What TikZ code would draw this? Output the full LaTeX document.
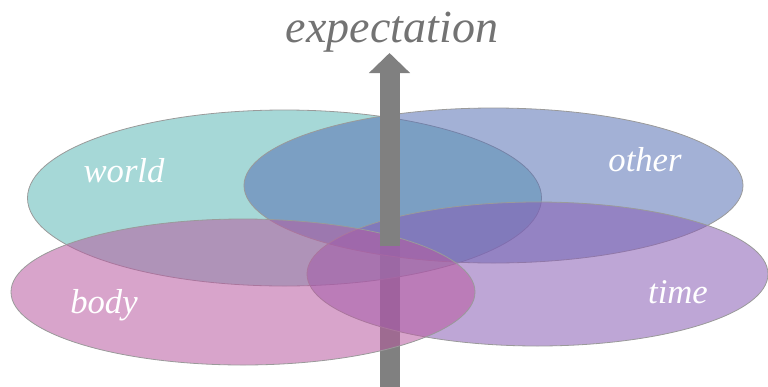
\documentclass[tikz,border=0pt]{standalone}
\usepackage{fontspec}
\setmainfont{Liberation Serif}
\usetikzlibrary{arrows.meta,shapes.geometric}
\definecolor{teal}{HTML}{5DB8B6}
\definecolor{slate}{HTML}{5871B4}
\definecolor{rose}{HTML}{B85AA0}
\definecolor{lilac}{HTML}{895DB4}
\definecolor{rim}{HTML}{9A9A9A}
\definecolor{shaft}{HTML}{808080}
\definecolor{caption}{HTML}{737373}

\begin{document}
\begin{tikzpicture}[
  x=0.75pt,y=-0.75pt,
  blob/.style={ellipse,draw=rim,line width=0.6pt,fill opacity=0.55,
    inner sep=0pt},
  tag/.style={text=white,font=\itshape\fontsize{26}{30}\selectfont,anchor=base},
  pole/.style={draw=shaft,line width=15pt}
]
\useasboundingbox (0,0) rectangle (768,386);
\coordinate (base) at (389.5,390);
\coordinate (cut) at (389.5,246);
\coordinate (tip) at (389.5,53);
\draw[pole] (base) -- (cut);
\node[blob,fill=teal,minimum width=385.5pt,minimum height=132pt] (world) at (284.5,198) {};
\node[blob,fill=slate,minimum width=374.25pt,minimum height=116.25pt] (other) at (493.5,185.5) {};
\node[blob,fill=lilac,minimum width=345.75pt,minimum height=108pt] (time) at (537.5,274) {};
\node[blob,fill=rose,minimum width=348pt,minimum height=109.5pt] (body) at (243,292) {};
\draw[pole,-{Triangle[length=15pt,width=30pt]}] (cut) -- (tip);
\node[tag] (worldtag) at (124,182) {world};
\node[tag] (othertag) at (645,171) {other};
\node[tag] (bodytag) at (104,313) {body};
\node[tag] (timetag) at (678,303) {time};
\node[text=caption,font=\itshape\fontsize{34.5}{40}\selectfont,anchor=base]
  (expectation) at (392,42) {expectation};
\end{tikzpicture}
\end{document}
